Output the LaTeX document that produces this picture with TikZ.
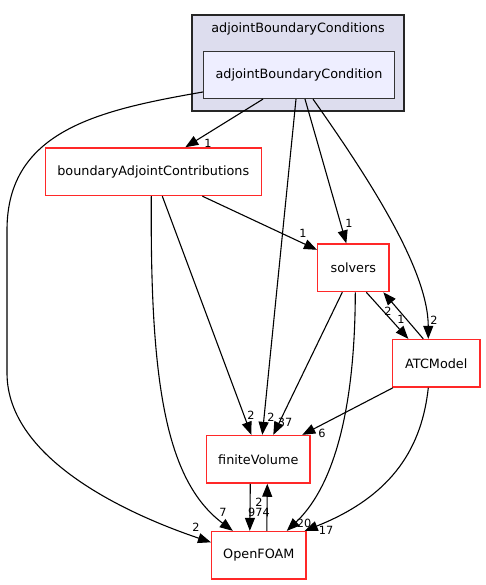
\documentclass[tikz,border=0pt]{standalone}
\usepackage{fontspec}
\setmainfont{DejaVu Sans}
\usetikzlibrary{arrows.meta}
\definecolor{dirred}{RGB}{255,40,40}
\definecolor{clfill}{RGB}{221,221,238}
\definecolor{nodefill}{RGB}{238,238,255}

\begin{document}
\begin{tikzpicture}[x=1pt, y=-1pt,
  every node/.style={align=center, font=\fontsize{12.8}{15}\selectfont},
  dirbox/.style={draw=dirred, line width=1.4pt, minimum height=47.5, inner sep=0pt},
  lbl/.style={font=\fontsize{11.3}{13}\selectfont, inner sep=0pt},
  dep/.style={-{Triangle[length=13pt, width=10pt]}, line width=1.1pt}]
\useasboundingbox (0,0) rectangle (485,585);

\node (cl) [draw=black!85, fill=clfill, line width=1.2pt, minimum width=212, minimum height=96] at (298,63) {};
\node (clname) [anchor=base] at (298,33) {adjointBoundaryConditions};
\node (aBC) [draw=black!80, fill=nodefill, line width=1.2pt, minimum width=191, minimum height=47] at (299,75) {adjointBoundaryCondition};

\node (bAC) [dirbox, minimum width=216] at (153.3,171.7) {boundaryAdjointContributions};
\node (sol) [dirbox, minimum width=71.3] at (353.3,267.8) {solvers};
\node (ATC) [dirbox, minimum width=87.3] at (436.3,363.3) {ATCModel};
\node (fV) [dirbox, minimum width=103.3] at (258.3,459.3) {finiteVolume};
\node (OF) [dirbox, minimum width=94.3] at (258.8,555.3) {OpenFOAM};

\draw[dep] ([xshift=-36pt]aBC.south) -- ([xshift=32pt]bAC.north) node[lbl] at (208,143) {1};
\draw[dep] ([yshift=-17pt]aBC.west) .. controls (100,110) and (7,130) .. (7,230) -- (7,373) .. controls (7,460) and (130,515) .. ([yshift=13pt]OF.west) node[lbl] at (196,527) {2};
\draw[dep] ([xshift=-3pt]aBC.south) -- ([xshift=4pt]fV.north) node[lbl] at (271,417) {2};
\draw[dep] ([xshift=6pt]aBC.south) -- ([xshift=-7pt]sol.north) node[lbl] at (349,223) {1};
\draw[dep] ([xshift=14pt]aBC.south) .. controls (370,180) and (428,270) .. ([xshift=-8pt]ATC.north) node[lbl] at (434,320) {2};
\draw[dep] ([xshift=49pt]bAC.south) -- ([yshift=18pt]sol.west) node[lbl] at (303,233) {1};
\draw[dep] ([xshift=-2pt]bAC.south) .. controls (150,380) and (165,480) .. ([xshift=-26pt]OF.north) node[lbl] at (223,512) {7};
\draw[dep] ([xshift=9pt]bAC.south) -- ([xshift=-7pt]fV.north) node[lbl] at (251,415) {2};
\draw[dep] ([xshift=-11pt]sol.south) -- ([xshift=15pt]fV.north) node[lbl] at (285,422) {37};
\draw[dep] ([xshift=2pt]sol.south) .. controls (355,420) and (330,490) .. ([xshift=28pt]OF.north) node[lbl] at (304,523) {20};
\draw[dep] ([xshift=13pt]sol.south) -- ([xshift=-28pt]ATC.north) node[lbl] at (401,319) {1};
\draw[dep] ([xshift=-13pt]ATC.north) -- ([xshift=30pt]sol.south) node[lbl] at (388,311) {2};
\draw[dep] ([xshift=1pt]ATC.south west) -- ([xshift=44pt]fV.north) node[lbl] at (322,433) {6};
\draw[dep] ([xshift=-8pt]ATC.south) .. controls (422,445) and (395,495) .. ([xshift=-2pt]OF.north east) node[lbl] at (326,530) {17};
\draw[dep] ([xshift=-8pt]fV.south) -- ([xshift=-9pt]OF.north) node[lbl] at (259,512) {974};
\draw[dep] ([xshift=8pt]OF.north) -- ([xshift=9pt]fV.south) node[lbl] at (259,502) {2};
\end{tikzpicture}
\end{document}
